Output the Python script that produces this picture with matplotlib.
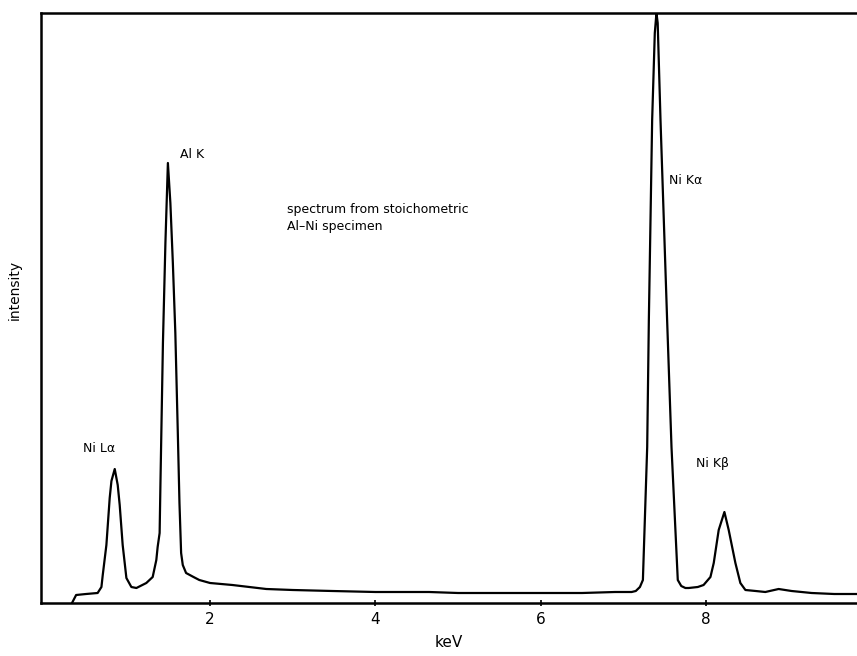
import matplotlib
matplotlib.use("Agg")
import matplotlib.pyplot as plt

# ---- data (intensity in arbitrary units) ----
energy_kev = [0.33, 0.38, 0.50, 0.64, 0.686, 0.702, 0.746, 0.786, 0.807, 0.847,
              0.883, 0.907, 0.943, 0.988, 1.048, 1.109, 1.229, 1.306, 1.350, 1.366,
              1.39, 1.40, 1.43, 1.46, 1.49, 1.52, 1.55, 1.58, 1.61, 1.63,
              1.65, 1.67, 1.71, 1.80, 1.87, 2.0, 2.27, 2.68, 3.0, 3.48,
              4.0, 4.65, 5.0, 5.5, 6.0, 6.5, 6.9, 7.10, 7.15, 7.20,
              7.236, 7.288, 7.308, 7.328, 7.348, 7.38, 7.40, 7.415, 7.449, 7.489,
              7.529, 7.582, 7.658, 7.70, 7.75, 7.79, 7.90, 7.97, 8.053, 8.093,
              8.153, 8.222, 8.274, 8.355, 8.415, 8.476, 8.60, 8.717, 8.878, 9.035,
              9.277, 9.55, 9.85]
intensity = [0, 8, 9, 10, 16, 28, 58, 105, 122, 134,
             118, 98, 58, 25, 16, 15, 20, 26, 43, 56,
             70, 120, 260, 360, 440, 400, 340, 270, 170, 100,
             50, 38, 30, 26, 23, 20, 18, 14, 13, 12,
             11, 11, 10, 10, 10, 10, 11, 11, 12, 16,
             23, 156, 283, 383, 483, 570, 590, 580, 483, 383,
             283, 156, 23, 17, 15, 15, 16, 18, 26, 40,
             73, 91, 73, 40, 20, 13, 12, 11, 14, 12,
             10, 9, 9]

peak_labels = ["Ni Lα", "Al K", "Ni Kα", "Ni Kβ"]
peak_label_x = [0.46, 1.64, 7.55, 7.88]
peak_label_y = [154, 448, 423, 140]

xticks = [2, 4, 6, 8]
note_text = "spectrum from stoichometric\nAl\u2013Ni specimen"

# ---- figure ----
W, H, DPI = 857, 656, 100
fig = plt.figure(figsize=(W / DPI, H / DPI), dpi=DPI)
ax = fig.add_axes([41 / W, 1 - 603 / H, (857 - 41) / W, (603 - 13) / H])

ax.plot(energy_kev, intensity, color="black", lw=1.6, solid_joinstyle="round")

ax.set_xlim(-0.045, 9.826)
ax.set_ylim(0, 590)

ax.set_xticks(xticks)
ax.set_xticklabels([str(t) for t in xticks])
ax.set_yticks([])
ax.tick_params(axis="x", direction="inout", length=5, width=1.2,
               labelsize=11, pad=4)

for side in ["left", "top", "bottom"]:
    ax.spines[side].set_linewidth(1.8)
ax.spines["right"].set_visible(False)

ax.set_xlabel("keV", fontsize=11, labelpad=6)
ax.set_ylabel("intensity", fontsize=10)
ax.yaxis.set_label_coords(-0.024, 0.53)

for lab, lx, ly in zip(peak_labels, peak_label_x, peak_label_y):
    ax.text(lx, ly, lab, fontsize=9, ha="left", va="center")

ax.text(2.93, 385, note_text, fontsize=9, ha="left", va="center",
        linespacing=1.35)

fig.savefig("out.png", dpi=DPI)
